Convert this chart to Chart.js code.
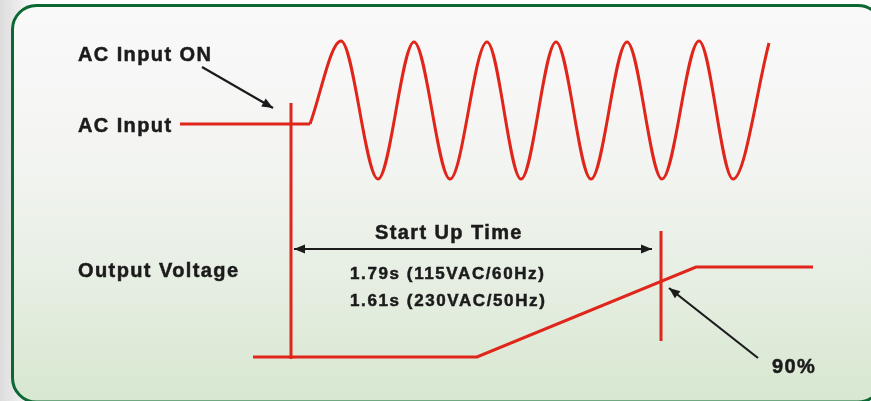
<!DOCTYPE html>
<html>
<head>
<meta charset="utf-8">
<script src="https://cdn.jsdelivr.net/npm/chart.js@4/dist/chart.umd.min.js"></script>
<style>
  html, body { margin: 0; padding: 0; background: #fff; }
  #wrap { width: 871px; height: 401px; }
</style>
</head>
<body>
<div id="wrap"><canvas id="diagram" width="871" height="401"></canvas></div>
<script>
// time runs left to right, level is measured from the top of the panel
const acIdleTime = [180, 310];
const acIdleLevel = [124, 124];
const acWaveTime = [310, 341, 378, 414, 450, 487, 521, 556, 591, 627, 662, 699, 733, 769];
const acWaveLevel = [124, 41, 179, 42, 179, 42, 179, 42, 179, 42, 179, 41, 179, 43];
const outputTime = [253, 477, 696, 813];
const outputLevel = [357, 357, 267, 267];
const acOnMarkTime = [291, 291];
const acOnMarkLevel = [103, 359];
const ninetyMarkTime = [661, 661];
const ninetyMarkLevel = [231, 341];
const startUpTime = [294, 652];
const startUpLevel = [249, 249];
const acOnArrowTime = [202, 273];
const acOnArrowLevel = [67, 108];
const ninetyArrowTime = [758, 669];
const ninetyArrowLevel = [358, 288];

const labelTexts = [
  "AC Input ON",
  "AC Input",
  "Output Voltage",
  "Start Up Time",
  "1.79s (115VAC/60Hz)",
  "1.61s (230VAC/50Hz)",
  "90%",
];

const red = "#e0251b";
const ink = "#1b1b1b";

const toPts = (xs, ys) => xs.map((x, i) => ({ x, y: ys[i] }));

const redLine = (xs, ys, extra) => ({
  data: toPts(xs, ys),
  borderColor: red,
  borderWidth: 3,
  showLine: true,
  pointRadius: 0,
  ...extra,
});

const arrowLine = (xs, ys, ends) => ({
  data: toPts(xs, ys),
  borderColor: ink,
  borderWidth: 2.2,
  showLine: true,
  pointRadius: 0,
  arrowEnds: ends,
});

// panel background with the green rounded frame
const panelPlugin = {
  id: "panel",
  beforeDraw(chart) {
    const ctx = chart.ctx;
    const w = chart.width, h = chart.height;
    ctx.save();
    const bg = ctx.createLinearGradient(0, 0, 40, 0);
    bg.addColorStop(0, "#dcdcdc");
    bg.addColorStop(1, "#ffffff");
    ctx.fillStyle = bg;
    ctx.fillRect(0, 0, w, h);

    const l = 12.5, t = 5.5, r = 882, b = 402, rad = 24;
    ctx.beginPath();
    ctx.roundRect(l, t, r - l, b - t, rad);
    const fill = ctx.createLinearGradient(0, t, 0, b);
    fill.addColorStop(0, "#f9f9f9");
    fill.addColorStop(0.35, "#f4f5f3");
    fill.addColorStop(0.7, "#e6eee2");
    fill.addColorStop(1, "#d7e7d0");
    ctx.fillStyle = fill;
    ctx.fill();
    ctx.lineWidth = 3;
    ctx.strokeStyle = "#0c6832";
    ctx.stroke();
    ctx.restore();
  },
};

// arrowheads and text labels
const notesPlugin = {
  id: "notes",
  afterDatasetsDraw(chart) {
    const ctx = chart.ctx;
    ctx.save();
    ctx.fillStyle = ink;
    chart.data.datasets.forEach((ds, i) => {
      if (!ds.arrowEnds) return;
      const pts = chart.getDatasetMeta(i).data;
      const head = (tip, from) => {
        const ang = Math.atan2(tip.y - from.y, tip.x - from.x);
        const len = 11, half = 4.5;
        ctx.beginPath();
        ctx.moveTo(tip.x, tip.y);
        ctx.lineTo(tip.x - len * Math.cos(ang) + half * Math.sin(ang),
                   tip.y - len * Math.sin(ang) - half * Math.cos(ang));
        ctx.lineTo(tip.x - len * Math.cos(ang) - half * Math.sin(ang),
                   tip.y - len * Math.sin(ang) + half * Math.cos(ang));
        ctx.closePath();
        ctx.fill();
      };
      const n = pts.length;
      head(pts[n - 1], pts[n - 2]);
      if (ds.arrowEnds === "both") head(pts[0], pts[1]);
    });

    const xs = chart.scales.x, ys = chart.scales.y;
    const spots = [
      [78, 61, 20],
      [78, 132, 20],
      [78, 277, 20],
      [375, 239, 20],
      [350, 279, 17],
      [350, 306, 17],
      [772, 373, 20],
    ];
    ctx.textBaseline = "alphabetic";
    ctx.textAlign = "left";
    ctx.strokeStyle = ink;
    ctx.lineWidth = 0.5;
    labelTexts.forEach((txt, i) => {
      const [tx, ty, size] = spots[i];
      ctx.font = `bold ${size}px "Liberation Sans", Arial, sans-serif`;
      ctx.letterSpacing = size > 18 ? "1.4px" : "1.6px";
      const px = xs.getPixelForValue(tx), py = ys.getPixelForValue(ty);
      ctx.fillText(txt, px, py);
      ctx.strokeText(txt, px, py);
    });
    ctx.restore();
  },
};

new Chart(document.getElementById("diagram"), {
  type: "scatter",
  data: {
    datasets: [
      redLine(acIdleTime, acIdleLevel),
      redLine(acWaveTime, acWaveLevel, { cubicInterpolationMode: "monotone" }),
      redLine(outputTime, outputLevel),
      redLine(acOnMarkTime, acOnMarkLevel),
      redLine(ninetyMarkTime, ninetyMarkLevel),
      arrowLine(startUpTime, startUpLevel, "both"),
      arrowLine(acOnArrowTime, acOnArrowLevel, "end"),
      arrowLine(ninetyArrowTime, ninetyArrowLevel, "end"),
    ],
  },
  options: {
    responsive: false,
    animation: false,
    layout: { padding: 0 },
    plugins: {
      legend: { display: false },
      tooltip: { enabled: false },
    },
    scales: {
      x: { type: "linear", min: 0, max: 871, display: false },
      y: { type: "linear", min: 0, max: 401, reverse: true, display: false },
    },
    elements: { line: { borderCapStyle: "butt", borderJoinStyle: "miter" } },
  },
  plugins: [panelPlugin, notesPlugin],
});
</script>
</body>
</html>
